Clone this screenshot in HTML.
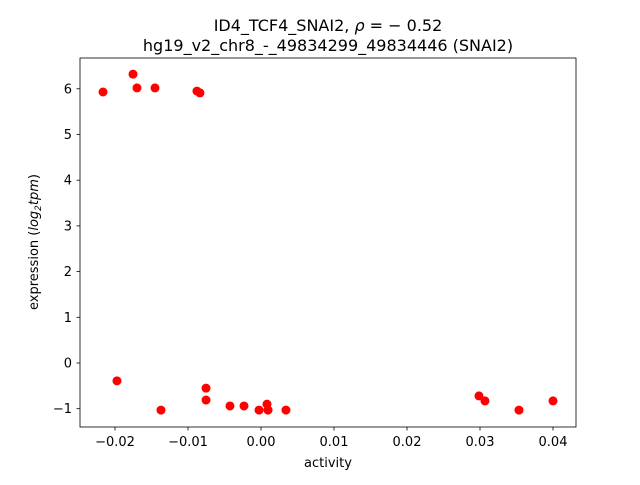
<!DOCTYPE html>
<html><head><meta charset="utf-8"><style>
body{margin:0;background:#fff;font-family:"Liberation Sans","DejaVu Sans",sans-serif;}
svg text{font-family:"DejaVu Sans","Liberation Sans",sans-serif;}
</style></head><body>
<svg id="chart" width="640" height="480" xmlns="http://www.w3.org/2000/svg">
<rect width="640" height="480" fill="#fff"/>
<text x="328" y="31" text-anchor="middle" font-size="16">ID4_TCF4_SNAI2, <tspan font-style="italic">ρ</tspan> = − 0.52</text>
<text x="328" y="51" text-anchor="middle" font-size="16">hg19_v2_chr8_-_49834299_49834446 (SNAI2)</text>
<g id="xt"></g><g id="yt"></g><g id="pts"></g>
<rect x="80" y="58" width="496" height="369" fill="none" stroke="#000" stroke-width="0.8"/>
<text x="328" y="467" text-anchor="middle" font-size="13">activity</text>
<text transform="translate(38,242) rotate(-90)" text-anchor="middle" font-size="13">expression (<tspan font-style="italic">log</tspan><tspan font-size="9" dy="3" font-style="italic">2</tspan><tspan dy="-3" font-style="italic">tpm</tspan>)</text>
</svg>
<script>
const xVals=[-0.02164,-0.01753,-0.01699,-0.01452,-0.00877,-0.00836,-0.01973,-0.01370,-0.00753,-0.00753,-0.00425,-0.00233,-0.00027,0.00082,0.00096,0.00342,0.02986,0.03068,0.03534,0.04];
const yVals=[5.93,6.32,6.02,6.02,5.95,5.91,-0.39,-1.03,-0.55,-0.81,-0.94,-0.94,-1.03,-0.90,-1.03,-1.03,-0.72,-0.83,-1.03,-0.83];
const xTicks=[-0.02,-0.01,0,0.01,0.02,0.03,0.04];
const xTickLabels=["−0.02","−0.01","0.00","0.01","0.02","0.03","0.04"];
const yTicks=[-1,0,1,2,3,4,5,6];
const yTickLabels=["−1","0","1","2","3","4","5","6"];
const sx=v=>261+v*7300;
const sy=v=>363-v*45.7;
const NS="http://www.w3.org/2000/svg";
function mk(t,a,p){const e=document.createElementNS(NS,t);for(const k in a)e.setAttribute(k,a[k]);p.appendChild(e);return e;}
const xt=document.getElementById('xt'),yt=document.getElementById('yt'),pts=document.getElementById('pts');
xTicks.forEach((v,i)=>{const x=sx(v);
const l=mk('line',{x1:x,x2:x,y1:427,y2:430.5,stroke:'#000','stroke-width':0.8},xt);


const t=mk('text',{x:x,y:446,'text-anchor':'middle','font-size':13},xt);t.textContent=xTickLabels[i];

});
yTicks.forEach((v,i)=>{const y=sy(v);
const l=mk('line',{x1:76.5,x2:80,y1:y,y2:y,stroke:'#000','stroke-width':0.8},yt);


const t=mk('text',{x:72,y:y+4.5,'text-anchor':'end','font-size':13},yt);t.textContent=yTickLabels[i];

});
xVals.forEach((v,i)=>{const c=mk('circle',{cx:sx(v),cy:sy(yVals[i]),r:4.5,fill:'#ff0000'},pts);

});
</script>
</body></html>
